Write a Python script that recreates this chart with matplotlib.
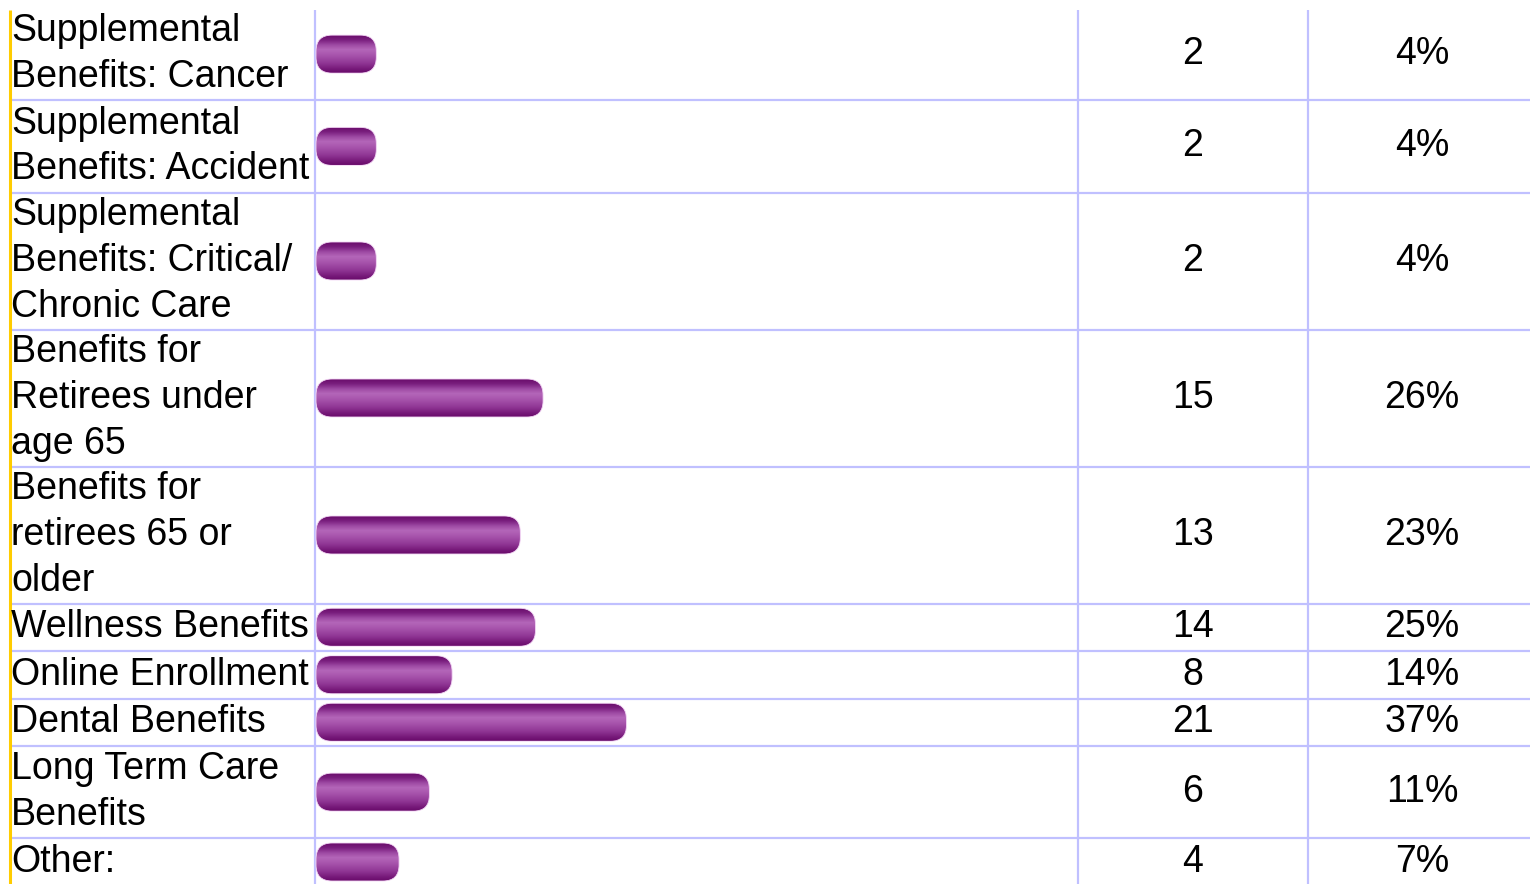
import matplotlib
matplotlib.use("Agg")
import matplotlib.pyplot as plt
import numpy as np
from matplotlib.patches import FancyBboxPatch
from matplotlib.colors import LinearSegmentedColormap

# data
labels = [
    "Supplemental\nBenefits: Cancer",
    "Supplemental\nBenefits: Accident",
    "Supplemental\nBenefits: Critical/\nChronic Care",
    "Benefits for\nRetirees under\nage 65",
    "Benefits for\nretirees 65 or\nolder",
    "Wellness Benefits",
    "Online Enrollment",
    "Dental Benefits",
    "Long Term Care\nBenefits",
    "Other:",
]
counts = [2, 2, 2, 15, 13, 14, 8, 21, 6, 4]
percents = [4, 4, 4, 26, 23, 25, 14, 37, 11, 7]

# layout (pixels)
W, H = 1530, 884
top = 8
col_left = 10
col_bar = 315
col_count = 1078
col_pct = 1308
line_h = 44.75
row_extra = 2.75
grid_color = "#c0c0ff"
text_font = "Liberation Sans"
fs = 27

px_per_pct = 7.58
cap_px = 16
bar_h = 38
round_px = 16

fig = plt.figure(figsize=(W / 100, H / 100), dpi=100)
ax = fig.add_axes([0, 0, 1, 1])
ax.set_xlim(0, W)
ax.set_ylim(H, 0)
ax.axis("off")

# row boundaries from the number of text lines
nlines = [lab.count("\n") + 1 for lab in labels]
heights = [line_h * n + row_extra for n in nlines]
bounds = np.concatenate([[top], top + np.cumsum(heights)])
centers = (bounds[:-1] + bounds[1:]) / 2

# grid
for b in bounds[1:]:
    ax.plot([col_left, W], [b, b], color=grid_color, lw=1.6, solid_capstyle="butt")
for x in (col_bar, col_count, col_pct):
    ax.plot([x, x], [top + 2, H], color=grid_color, lw=1.6, solid_capstyle="butt")
ax.plot([col_left, col_left], [top + 2, H], color="#ffcc00", lw=2.2, solid_capstyle="butt")

# text columns
for lab, c, p, yc in zip(labels, counts, percents, centers):
    ax.text(col_left + 1, yc, lab, ha="left", va="center", fontsize=fs,
            family=text_font, linespacing=1.34, color="black")
    ax.text((col_count + col_pct) / 2, yc, str(c), ha="center", va="center",
            fontsize=fs, family=text_font, color="black")
    ax.text((col_pct + W) / 2 + 3, yc, f"{p}%", ha="center", va="center",
            fontsize=fs, family=text_font, color="black")

# bar axes: x in percent, y in pixels
bax = fig.add_axes([col_bar / W, 0, (col_count - col_bar) / W, 1])
bax.patch.set_alpha(0)
bax.axis("off")
x0 = -(cap_px + 1) / px_per_pct
x1 = x0 + (col_count - col_bar) / px_per_pct

cmap = LinearSegmentedColormap.from_list("bar", [
    (0.0, "#6a0c6c"),
    (0.12, "#7a1f7e"),
    (0.25, "#9c48a2"),
    (0.38, "#b466b9"),
    (0.55, "#a652ab"),
    (0.75, "#8f3594"),
    (0.9, "#771a7a"),
    (1.0, "#690b6b"),
])
grad = np.linspace(0, 1, 64).reshape(-1, 1)

pad_u = cap_px / px_per_pct
for p, yc in zip(percents, centers):
    inner = bar_h - 2 * cap_px
    box = FancyBboxPatch((0, yc - inner / 2), p - 2 * (cap_px - 15) / px_per_pct, inner,
                         boxstyle=f"round,pad={pad_u},rounding_size={round_px / px_per_pct}",
                         mutation_aspect=px_per_pct, facecolor="none",
                         edgecolor="#f3d6f5", lw=0.6)
    bax.add_patch(box)
    im = bax.imshow(grad, cmap=cmap, aspect="auto", interpolation="bilinear",
                    extent=[-pad_u, p + pad_u, yc + bar_h / 2, yc - bar_h / 2])
    im.set_clip_path(box)

bax.set_xlim(x0, x1)
bax.set_ylim(H, 0)

fig.savefig("out.png", dpi=100, facecolor="white")
